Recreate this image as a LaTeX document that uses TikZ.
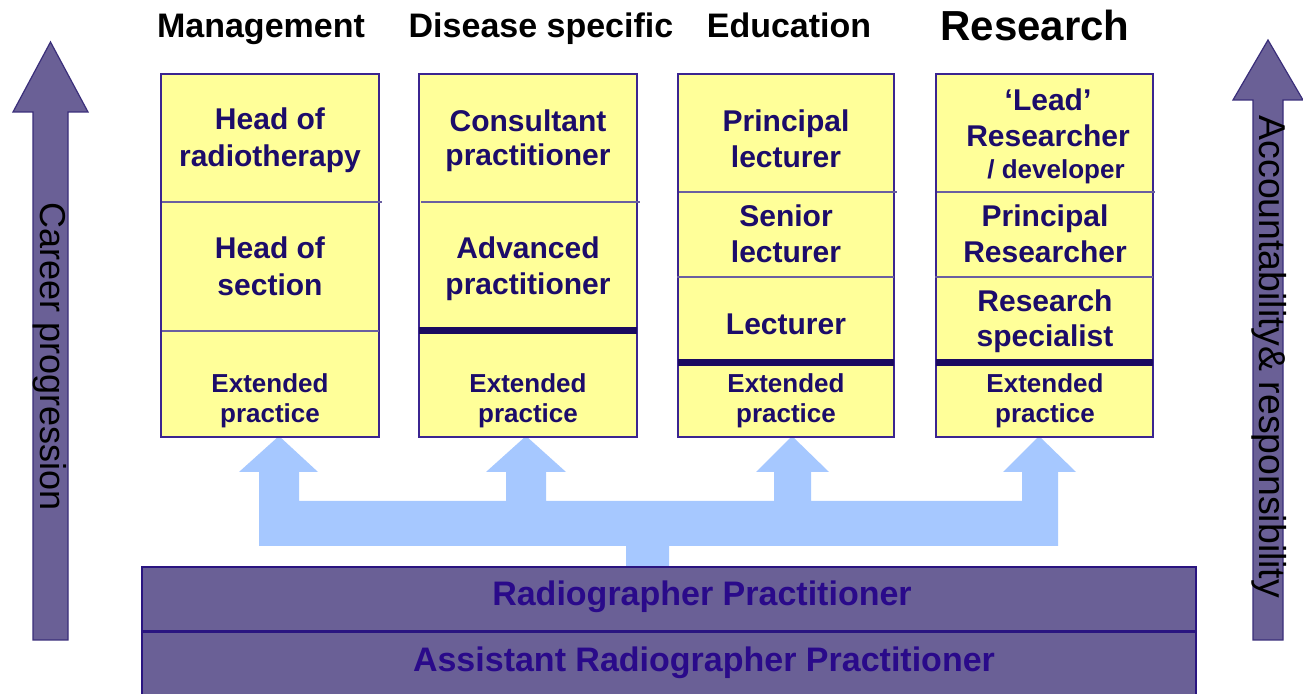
\documentclass[tikz,border=0pt]{standalone}
\usepackage{fontspec}
\setmainfont{Liberation Sans}
\definecolor{boxfill}{HTML}{FFFF99}
\definecolor{boxline}{HTML}{3B2590}
\definecolor{boxtext}{HTML}{1C0C6A}
\definecolor{divline}{HTML}{6A5FA0}
\definecolor{divdark}{HTML}{1A0A60}
\definecolor{purp}{HTML}{6A6096}
\definecolor{purpline}{HTML}{3A2E7A}
\definecolor{bartext}{HTML}{2A0A8A}
\definecolor{barline}{HTML}{2A1580}
\definecolor{lblue}{HTML}{A6C8FF}
\tikzset{
  hdr/.style={font=\fontsize{17pt}{20pt}\selectfont\bfseries, anchor=base, text=black, inner sep=0pt},
  hdrbig/.style={hdr, font=\fontsize{21pt}{24pt}\selectfont\bfseries},
  bt/.style={font=\fontsize{15pt}{18pt}\selectfont\bfseries, anchor=base, text=boxtext, inner sep=0pt},
  bts/.style={bt, font=\fontsize{13pt}{16pt}\selectfont\bfseries},
  cell/.style={draw=boxline, line width=1pt, fill=boxfill},
  thindiv/.style={draw=divline, line width=0.75pt},
  thickdiv/.style={draw=divdark, line width=3.5pt},
  bigarrow/.style={fill=purp, draw=purpline, line width=0.6pt},
  sidetext/.style={font=\fontsize{18pt}{20pt}\selectfont, text=black, rotate=-90, inner sep=0pt},
  bar/.style={fill=purp, draw=barline, line width=1pt},
  bartxt/.style={font=\fontsize{17pt}{20pt}\selectfont\bfseries, text=bartext, anchor=base, inner sep=0pt},
  bluefill/.style={fill=lblue, draw=none}
}
\begin{document}
\begin{tikzpicture}[x=0.5pt, y=-0.5pt]
\clip (0,0) rectangle (1303,694);
\fill[white] (0,0) rectangle (1303,694);

% side arrows
\path[bigarrow] (33,640) -- (33,112) -- (13,112) -- (50.5,42) -- (88,112) -- (68,112) -- (68,640) -- cycle;
\node[sidetext] (career) at (50,357) {Career progression};
\path[bigarrow] (1253,640) -- (1253,100) -- (1233,100) -- (1268,40) -- (1303,100) -- (1283,100) -- (1283,640) -- cycle;
\node[sidetext, font=\fontsize{18.7pt}{20pt}\selectfont] (account) at (1269,357) {Accountability\& responsibility};

% headers
\node[hdr] (hmgmt) at (261,38) {Management};
\node[hdr] (hdis) at (541,38) {Disease specific};
\node[hdr] (hedu) at (789,38) {Education};
\node[hdrbig] (hres) at (1035,41) {Research};

% blue arrows
\path[bluefill] (259,546) -- (626,546) -- (626,568) -- (669,568) -- (669,546) -- (1058,546)
  -- (1058,472) -- (1076,472) -- (1039,436) -- (1003,472) -- (1022,472) -- (1022,501)
  -- (811,501) -- (811,472) -- (829,472) -- (792,436) -- (756,472) -- (774,472) -- (774,501)
  -- (546,501) -- (546,472) -- (566,472) -- (526,436) -- (486,472) -- (506,472) -- (506,501)
  -- (299,501) -- (299,472) -- (318,472) -- (279,436) -- (239,472) -- (259,472) -- cycle;

% column 1
\path[cell] (161,74) rectangle (379,437);
\draw[thindiv] (162,202) -- (382,202);
\draw[thindiv] (162,331) -- (379,331);
\node[bt] (c1a) at (270,130) {Head of};
\node[bt] (c1b) at (270,167) {radiotherapy};
\node[bt] (c1c) at (270,259) {Head of};
\node[bt] (c1d) at (270,296) {section};
\node[bts] (c1e) at (270,393) {Extended};
\node[bts] (c1f) at (270,423) {practice};

% column 2
\path[cell] (419,74) rectangle (637,437);
\draw[thindiv] (421,202) -- (640,202);
\draw[thickdiv] (419,330.5) -- (637,330.5);
\node[bt] (c2a) at (528,132) {Consultant};
\node[bt] (c2b) at (528,166) {practitioner};
\node[bt] (c2c) at (528,259) {Advanced};
\node[bt] (c2d) at (528,295) {practitioner};
\node[bts] (c2e) at (528,393) {Extended};
\node[bts] (c2f) at (528,423) {practice};

% column 3
\path[cell] (678,74) rectangle (894,437);
\draw[thindiv] (679,192) -- (897,192);
\draw[thindiv] (677,277) -- (894,277);
\draw[thickdiv] (678,362.5) -- (894,362.5);
\node[bt] (c3a) at (786,132) {Principal};
\node[bt] (c3b) at (786,168) {lecturer};
\node[bt] (c3c) at (786,227) {Senior};
\node[bt] (c3d) at (786,263) {lecturer};
\node[bt] (c3e) at (786,335) {Lecturer};
\node[bts] (c3f) at (786,393) {Extended};
\node[bts] (c3g) at (786,423) {practice};

% column 4
\path[cell] (936,74) rectangle (1153,437);
\draw[thindiv] (937,192) -- (1155,192);
\draw[thindiv] (935,277) -- (1153,277);
\draw[thickdiv] (936,362.5) -- (1153,362.5);
\node[bt] (c4a) at (1048,111) {‘Lead’};
\node[bt] (c4b) at (1048,147) {Researcher};
\node[bts] (c4c) at (1056,179) {/ developer};
\node[bt] (c4d) at (1045,227) {Principal};
\node[bt] (c4e) at (1045,263) {Researcher};
\node[bt] (c4f) at (1045,312) {Research};
\node[bt] (c4g) at (1045,347) {specialist};
\node[bts] (c4h) at (1045,393) {Extended};
\node[bts] (c4i) at (1045,423) {practice};

% bottom bars
\path[bar] (142,567) rectangle (1196,632);
\path[bar] (142,632) rectangle (1196,700);
\draw[draw=barline, line width=1.5pt] (142,632) -- (1196,632);
\node[bartxt] (rp) at (702,606) {Radiographer Practitioner};
\node[bartxt] (arp) at (704,672) {Assistant Radiographer Practitioner};
\end{tikzpicture}
\end{document}
